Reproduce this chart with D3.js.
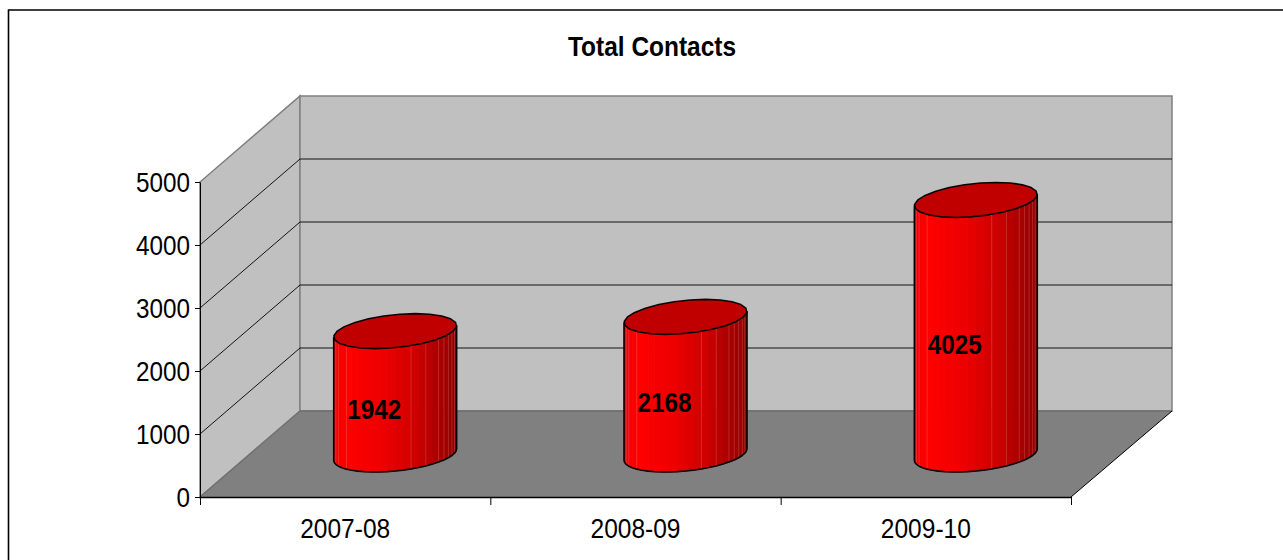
<!DOCTYPE html>
<html><head><meta charset="utf-8">
<script src="https://cdnjs.cloudflare.com/ajax/libs/d3/7.8.5/d3.min.js"></script>
<style>html,body{margin:0;padding:0;background:#fff}svg{display:block}text{font-family:"Liberation Sans",Arial,sans-serif;fill:#000}</style>
</head><body><svg id="c" width="1283" height="560"></svg>
<script>
const categories = ["2007-08","2008-09","2009-10"];
const totalContacts = [1942,2168,4025];
const yTicks = [0,1000,2000,3000,4000,5000];
const titleText = "Total Contacts";

const svg = d3.select("#c");
const y = d3.scaleLinear().domain([0,5000]).range([497,182]);
const x = d3.scaleBand().domain(categories).range([200,1071]);
const dx = 100, dy = -86;
const line = d3.line();

// frame
svg.append("path").attr("d","M8.5,560V10H1283").attr("fill","none").attr("stroke","#000").attr("stroke-width",1.6);
svg.append("text").attr("x",652).attr("y",56).attr("text-anchor","middle")
   .attr("font-size",28).attr("font-weight","bold").attr("textLength",168).attr("lengthAdjust","spacingAndGlyphs").text(titleText);

// walls and floor
const [x0,x1] = x.range(), yb = y(0), yt = y(5000);
const wall = {fill:"#c0c0c0",stroke:"#808080"};
svg.append("path").attr("d",line([[x0,yb],[x0,yt],[x0+dx,yt+dy],[x0+dx,yb+dy]])+"Z").attr("fill",wall.fill).attr("stroke",wall.stroke).attr("stroke-width",1.5);
svg.append("path").attr("d",line([[x0+dx,yb+dy],[x0+dx,yt+dy],[x1+dx+1,yt+dy],[x1+dx+1,yb+dy]])+"Z").attr("fill",wall.fill).attr("stroke",wall.stroke).attr("stroke-width",1.5);
// gridlines
yTicks.slice(1,-1).forEach(v=>{
  svg.append("path").attr("d",line([[x0,y(v)],[x0+dx,y(v)+dy],[x1+dx+1,y(v)+dy]])).attr("fill","none").attr("stroke","#000").attr("stroke-width",1).attr("stroke-opacity",.9);
});
svg.append("path").attr("d",line([[x0,yb],[x1,yb],[x1+dx+1,yb+dy],[x0+dx,yb+dy]])+"Z").attr("fill","#808080");
svg.append("path").attr("d",line([[x0,yb],[x0+dx,yb+dy]])).attr("stroke","#707070").attr("stroke-width",1.2);
svg.append("path").attr("d",line([[x0+dx,yb+dy],[x1+dx+1,yb+dy]])).attr("stroke","#6e6e6e").attr("stroke-width",1.5);
svg.append("path").attr("d",line([[x1,yb],[x1+dx+1,yb+dy]])).attr("stroke","#000").attr("stroke-width",1);

// axes
const yAxis = d3.axisLeft(y).tickValues(yTicks).tickFormat(d3.format("d")).tickSizeOuter(0).tickSizeInner(5).tickPadding(5);
const gy = svg.append("g").attr("transform",`translate(${x0},0)`).call(yAxis);
gy.selectAll("text").attr("font-size",27.5).attr("font-family","Liberation Sans").attr("dy","0.36em").attr("fill","#000").attr("textLength",d=>String(d).length*13.5).attr("lengthAdjust","spacingAndGlyphs");
gy.selectAll("path,line").attr("stroke","#000");
const xAxis = d3.axisBottom(x).tickSize(0).tickPadding(21);
const gx = svg.append("g").attr("transform",`translate(0,${yb})`).call(xAxis);
gx.selectAll("text").attr("font-size",28.5).attr("font-family","Liberation Sans").attr("dy","0.71em").attr("fill","#000").attr("textLength",90).attr("lengthAdjust","spacingAndGlyphs");
gx.select("path").attr("stroke","#000").attr("stroke-width",1.5);
[0,1,2,3].forEach(i=>svg.append("line").attr("x1",x0+i*x.step()+.5).attr("x2",x0+i*x.step()+.5).attr("y1",yb).attr("y2",yb+8).attr("stroke","#000"));

// cylinders
const ux = 58, vx = 20.3, vy = 17.5;
const baseShift = -42.5, topShift = -43.5;
const deg = Math.PI/180, tStart = 199.3, STEP = 7.5, NF = 24;
const pt = (cx,cy,a)=>[cx+ux*Math.cos(a*deg)+vx*Math.sin(a*deg), cy-vy*Math.sin(a*deg)];
const shade = d3.scaleLinear().domain([0,.12,.4,.68,1]).range(["#f00000","#ff0000","#ee0000","#cc0000","#8e0000"]);
const seams = new Set([2,3,5,14,16,18,19,20,21,22]);

const bars = svg.append("g").selectAll("g").data(categories).join("g");
bars.each(function(c,i){
  const g = d3.select(this);
  const v = totalContacts[i];
  const cx = x(c)+x.bandwidth()/2+dx/2;
  const cyT = y(v)+topShift, cyB = y(0)+baseShift;
  const left = cx-61.5, w = 123;
  d3.range(NF).forEach(k=>{
    const a0 = tStart+k*STEP, a1 = a0+STEP;
    const T0 = pt(cx,cyT,a0),T1 = pt(cx,cyT,a1),B0 = pt(cx,cyB,a0),B1 = pt(cx,cyB,a1);
    const col = shade(((T0[0]+T1[0])/2-left)/w);
    g.append("path").attr("d",line([T0,T1,B1,B0])+"Z").attr("fill",col).attr("stroke",col).attr("stroke-width",.8);
    if(seams.has(k)) g.append("path").attr("d",line([T0,B0])).attr("stroke","#ffb0b0").attr("stroke-opacity",.22).attr("stroke-width",1);
  });
  // outline of body
  const front = d3.range(NF+1).map(k=>pt(cx,cyB,tStart+k*STEP));
  const outline = [pt(cx,cyT,tStart),...front,pt(cx,cyT,tStart+180)];
  g.append("path").attr("d",line(outline)).attr("fill","none").attr("stroke","#000").attr("stroke-width",1.6).attr("stroke-linejoin","round").attr("stroke-opacity",.95);
  // top
  const top = d3.range(0,360,15).map(a=>pt(cx,cyT,a));
  g.append("path").attr("d",line(top)+"Z").attr("fill","#c00000").attr("stroke","#000").attr("stroke-width",1.6).attr("stroke-linejoin","round").attr("stroke-opacity",.95);
  // label
  g.append("text").attr("x",cx-21).attr("y",(cyT+cyB)/2+17+9.5).attr("text-anchor","middle")
    .attr("font-size",27).attr("font-weight","bold").attr("textLength",54).attr("lengthAdjust","spacingAndGlyphs").text(v);
});
</script></body></html>
